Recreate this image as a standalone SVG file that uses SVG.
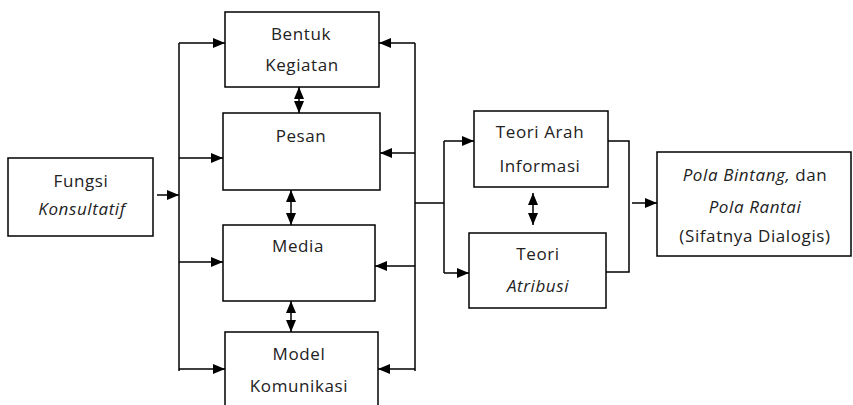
<svg xmlns="http://www.w3.org/2000/svg" width="853" height="405" viewBox="0 0 853 405">
<defs>
<marker id="ah" markerWidth="12" markerHeight="10" refX="12" refY="5" orient="auto" markerUnits="userSpaceOnUse"><path d="M0,0 L12,5 L0,10 Z" fill="#000"/></marker>
<marker id="as" markerWidth="12" markerHeight="10" refX="0" refY="5" orient="auto" markerUnits="userSpaceOnUse"><path d="M12,0 L0,5 L12,10 Z" fill="#000"/></marker>
</defs>
<style>
rect{fill:#fff;stroke:#000;stroke-width:1.5}
text{font-family:"Open Sans","Liberation Sans",sans-serif;font-size:17px;fill:#222;text-anchor:middle;letter-spacing:0.6px}
.i{font-style:italic}
#connectors path,#connectors line{stroke:#000;stroke-width:1.5;fill:none}
</style>
<rect x="0" y="0" width="853" height="405" style="fill:#fff;stroke:none"/>
<g id="connectors">
<line x1="157" y1="195" x2="179" y2="195" marker-end="url(#ah)"/>
<line x1="179" y1="43" x2="179" y2="371"/>
<line x1="179" y1="43" x2="225" y2="43" marker-end="url(#ah)"/>
<line x1="179" y1="158" x2="223" y2="158" marker-end="url(#ah)"/>
<line x1="179" y1="262" x2="223" y2="262" marker-end="url(#ah)"/>
<line x1="179" y1="369" x2="225" y2="369" marker-end="url(#ah)"/>
<line x1="415" y1="43" x2="415" y2="371"/>
<line x1="415" y1="43" x2="379" y2="43" marker-end="url(#ah)"/>
<line x1="415" y1="153" x2="380" y2="153" marker-end="url(#ah)"/>
<line x1="415" y1="266" x2="375" y2="266" marker-end="url(#ah)"/>
<line x1="415" y1="369" x2="378" y2="369" marker-end="url(#ah)"/>
<line x1="415" y1="203" x2="444" y2="203"/>
<line x1="444" y1="141" x2="444" y2="273"/>
<line x1="444" y1="141" x2="474" y2="141" marker-end="url(#ah)"/>
<line x1="444" y1="273" x2="469" y2="273" marker-end="url(#ah)"/>
<path d="M608,141 H629 V272 H606"/>
<line x1="632" y1="203" x2="657" y2="203" marker-end="url(#ah)"/>
<line x1="299" y1="87" x2="299" y2="113" marker-start="url(#as)" marker-end="url(#ah)"/>
<line x1="291" y1="190" x2="291" y2="225" marker-start="url(#as)" marker-end="url(#ah)"/>
<line x1="291" y1="301" x2="291" y2="332" marker-start="url(#as)" marker-end="url(#ah)"/>
<line x1="533" y1="193" x2="533" y2="225" marker-start="url(#as)" marker-end="url(#ah)"/>
</g>
<g id="fungsi"><rect x="8" y="158" width="145" height="78"/><text x="81" y="187">Fungsi</text><text x="82" y="215" class="i">Konsultatif</text></g>
<g id="bentuk"><rect x="225" y="12" width="154" height="75"/><text x="301" y="40">Bentuk</text><text x="302" y="71">Kegiatan</text></g>
<g id="pesan"><rect x="223" y="113" width="157" height="77"/><text x="301" y="142">Pesan</text></g>
<g id="media"><rect x="223" y="225" width="152" height="76"/><text x="298" y="252">Media</text></g>
<g id="model"><rect x="225" y="332" width="153" height="78"/><text x="299" y="360">Model</text><text x="299" y="392">Komunikasi</text></g>
<g id="teori-arah"><rect x="474" y="111" width="134" height="76"/><text x="540" y="138">Teori Arah</text><text x="540" y="172">Informasi</text></g>
<g id="teori-atribusi"><rect x="469" y="233" width="137" height="75"/><text x="538" y="260">Teori</text><text x="538" y="292" class="i">Atribusi</text></g>
<g id="pola"><rect x="657" y="152" width="194" height="104"/><text x="755" y="181"><tspan class="i">Pola Bintang,</tspan> dan</text><text x="755" y="213" class="i">Pola Rantai</text><text x="755" y="242">(Sifatnya Dialogis)</text></g>
</svg>
